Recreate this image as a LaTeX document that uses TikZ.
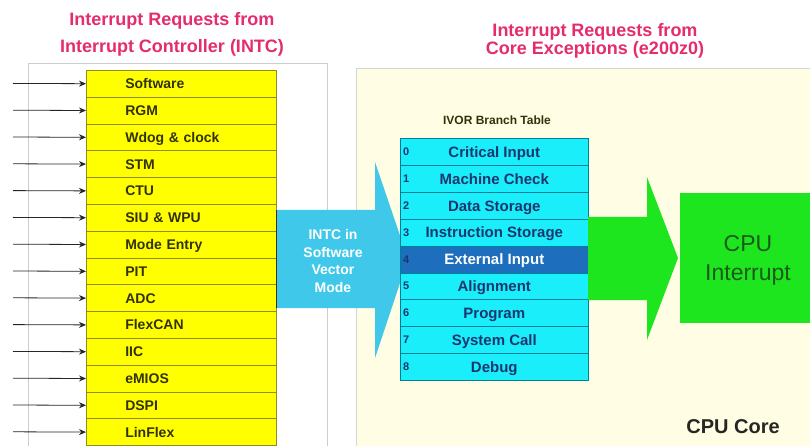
\documentclass[tikz,border=0pt]{standalone}
\usepackage{fontspec}
\setmainfont{Liberation Sans}
\usetikzlibrary{arrows.meta}

\definecolor{titlepink}{RGB}{228,44,110}
\definecolor{rowyellow}{RGB}{255,255,0}
\definecolor{rowline}{RGB}{140,140,40}
\definecolor{rowtext}{RGB}{50,50,10}
\definecolor{intcblue}{RGB}{64,200,235}
\definecolor{ivorcyan}{RGB}{25,238,250}
\definecolor{ivorsel}{RGB}{30,110,190}
\definecolor{ivorline}{RGB}{0,130,150}
\definecolor{ivortext}{RGB}{25,55,110}
\definecolor{cpugreen}{RGB}{30,230,30}
\definecolor{cputext}{RGB}{25,90,25}
\definecolor{corecream}{RGB}{255,253,228}
\definecolor{frame}{RGB}{205,205,205}

\tikzset{
  titletext/.style={text=titlepink, font=\bfseries\fontsize{18}{18}\selectfont, anchor=base, inner sep=0pt},
  srcrow/.style={draw=rowline, line width=0.6pt, fill=rowyellow, anchor=north west,
    minimum width=190pt, minimum height=26.8pt, inner xsep=39pt, inner ysep=0pt,
    text width=112pt, align=left, text height=10pt, text depth=0pt,
    text=rowtext, font=\bfseries\fontsize{14}{16}\selectfont},
  ivorrow/.style={draw=ivorline, line width=0.6pt, fill=ivorcyan, anchor=north west,
    minimum width=188pt, minimum height=26.9pt, inner sep=0pt,
    text height=11pt, text depth=0pt,
    text=ivortext, font=\bfseries\fontsize{15}{17}\selectfont},
  ivorsel/.style={fill=ivorsel, text=white},
  ivornum/.style={anchor=west, inner sep=0pt, text height=8pt, text depth=0pt,
    text=ivortext, font=\bfseries\fontsize{11}{13}\selectfont},
  reqarrow/.style={-{Stealth[length=7pt,width=6pt]}, line width=0.8pt, draw=black!85},
}

\begin{document}
\begin{tikzpicture}[x=1pt,y=-1pt]
  \useasboundingbox (0,0) rectangle (810,446);
  \fill[white] (0,0) rectangle (810,446);
  \clip (0,0) rectangle (810,446);

  % headings
  \node[titletext] (intctitleA) at (172,26) {Interrupt Requests from};
  \node[titletext] (intctitleB) at (172,53) {Interrupt Controller (INTC)};
  \node[titletext] (coretitleA) at (595,37) {Interrupt Requests from};
  \node[titletext] (coretitleB) at (595,55) {Core Exceptions (e200z0)};

  % INTC frame and CPU core area
  \draw[frame, line width=0.8pt, fill=white] (28,63) rectangle (327,460);
  \draw[draw=frame!80!corecream, line width=0.8pt, fill=corecream] (356,68) rectangle (830,460);

  % interrupt sources
  \foreach \lab [count=\i from 0] in {Software,RGM,Wdog \& clock,STM,CTU,SIU \& WPU,
      Mode Entry,PIT,ADC,FlexCAN,IIC,eMIOS,DSPI,LinFlex} {
    \node[srcrow] (src\i) at (86,{70+26.8*\i}) {\lab};
    \coordinate (in\i) at (13,{70+26.8*\i+13.4});
    \draw[reqarrow] (in\i) -- (src\i.west);
  }

  % INTC in software vector mode: block arrow into the table
  \fill[intcblue] (276,210) -- (375,210) -- (375,162) -- (408,259)
    -- (375,358) -- (375,308) -- (276,308) -- cycle;
  \draw[black!80, line width=0.8pt] (276,210) -- (276,308);
  \node[align=center, text=white, inner sep=0pt,
    font=\bfseries\fontsize{14}{17.4}\selectfont] (intcmode) at (333,261)
    {INTC in\\Software\\Vector\\Mode};

  % IVOR branch table
  \node[anchor=base, inner sep=0pt, text=rowtext, font=\bfseries\fontsize{12}{14}\selectfont]
    (ivorhead) at (497,125) {IVOR Branch Table};
  \foreach \lab [count=\i from 0] in {Critical Input,Machine Check,Data Storage,
      Instruction Storage,External Input,Alignment,Program,System Call,Debug} {
    \ifnum\i=4
      \node[ivorrow, ivorsel] (ivor\i) at (400,{138+26.9*\i}) {\lab};
    \else
      \node[ivorrow] (ivor\i) at (400,{138+26.9*\i}) {\lab};
    \fi
    \node[ivornum] (num\i) at (403,{138+26.9*\i+13.45}) {\i};
  }

  % CPU interrupt and the arrow feeding it
  \fill[cpugreen] (588,217) -- (647,217) -- (647,177) -- (678,258)
    -- (647,340) -- (647,300) -- (588,300) -- cycle;
  \node[fill=cpugreen, anchor=north west, minimum width=140pt, minimum height=130pt,
    inner sep=0pt] (cpuint) at (680,193) {};
  \node[align=center, text=cputext, inner sep=0pt,
    font=\fontsize{23}{29}\selectfont] (cpuintlabel) at (748,260.6) {CPU\\Interrupt};

  \node[anchor=base, inner sep=0pt, text=black!85!corecream,
    font=\bfseries\fontsize{20}{22}\selectfont] (corelabel) at (733,433) {CPU Core};
\end{tikzpicture}
\end{document}
